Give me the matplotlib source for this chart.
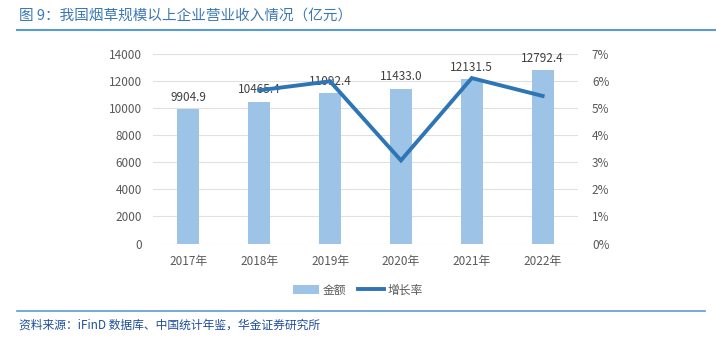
import matplotlib
matplotlib.use("Agg")
import matplotlib.pyplot as plt
from matplotlib.lines import Line2D
from matplotlib.patches import Patch

plt.rcParams['font.family'] = ['Noto Sans CJK SC', 'DejaVu Sans']

years = ['2017年', '2018年', '2019年', '2020年', '2021年', '2022年']
revenue = [9904.9, 10465.4, 11092.4, 11433.0, 12131.5, 12792.4]
growth_years = ['2018年', '2019年', '2020年', '2021年', '2022年']
growth = [5.66, 5.99, 3.07, 6.11, 5.45]
left_ticks = [0, 2000, 4000, 6000, 8000, 10000, 12000, 14000]
right_ticks = [0, 1, 2, 3, 4, 5, 6, 7]

title = '图 9：我国烟草规模以上企业营业收入情况（亿元）'
source = '资料来源：iFinD 数据库、中国统计年鉴，华金证券研究所'

bar_color = '#9DC3E6'
line_color = '#2E75B6'
tick_color = '#595959'

fig = plt.figure(figsize=(7.16, 3.4), dpi=100)
ax = fig.add_axes([0.2137, 0.2838, 0.5936, 0.5574])

x = list(range(len(years)))
ax.bar(x, revenue, width=0.31, color=bar_color, zorder=2)
ax.set_ylim(0, 14000)
ax.set_yticks(left_ticks)
ax.set_yticklabels([str(t) for t in left_ticks])
ax.set_xlim(-0.5, len(years) - 0.5)
ax.set_xticks(x)
ax.set_xticklabels(years)
ax.grid(axis='y', color='#E0E0E0', linewidth=0.8, zorder=0)
for s in ax.spines.values():
    s.set_visible(False)
ax.tick_params(axis='both', length=0, labelsize=8.5, labelcolor=tick_color)
ax.tick_params(axis='x', pad=8)
ax.tick_params(axis='y', pad=8)

for xi, v in zip(x, revenue):
    ax.text(xi, v + 400, f'{v:.1f}', ha='center', va='bottom', fontsize=8.5, color='#404040', zorder=5)

ax2 = ax.twinx()
gx = [years.index(y) for y in growth_years]
ax2.plot(gx, growth, color=line_color, linewidth=2.8, zorder=4, solid_joinstyle='miter')
ax2.set_ylim(0, 7)
ax2.set_yticks(right_ticks)
ax2.set_yticklabels([f'{t}%' for t in right_ticks])
for s in ax2.spines.values():
    s.set_visible(False)
ax2.tick_params(axis='y', length=0, labelsize=8.5, labelcolor=tick_color, pad=10)

handles = [Patch(facecolor=bar_color, edgecolor='none'),
           Line2D([0], [0], color=line_color, linewidth=2.8)]
fig.legend(handles, ['金额', '增长率'], loc='center', bbox_to_anchor=(0.50, 0.147),
           ncol=2, frameon=False, fontsize=8.5, labelcolor=tick_color,
           handlelength=2.2, handleheight=0.7, columnspacing=1.0, handletextpad=0.3)

fig.text(0.027, 0.953, title, fontsize=10.5, color='#3A78B5', ha='left', va='center')
fig.add_artist(Line2D([0.024, 1.0], [0.912, 0.912], color='#5B9BD5', linewidth=1.5, transform=fig.transFigure))
fig.add_artist(Line2D([0.024, 0.985], [0.086, 0.086], color='#5B9BD5', linewidth=1.2, transform=fig.transFigure))
fig.text(0.027, 0.045, source, fontsize=8.5, color='#1F4E9A', ha='left', va='center', style='italic')

fig.savefig('out.png', dpi=100)
